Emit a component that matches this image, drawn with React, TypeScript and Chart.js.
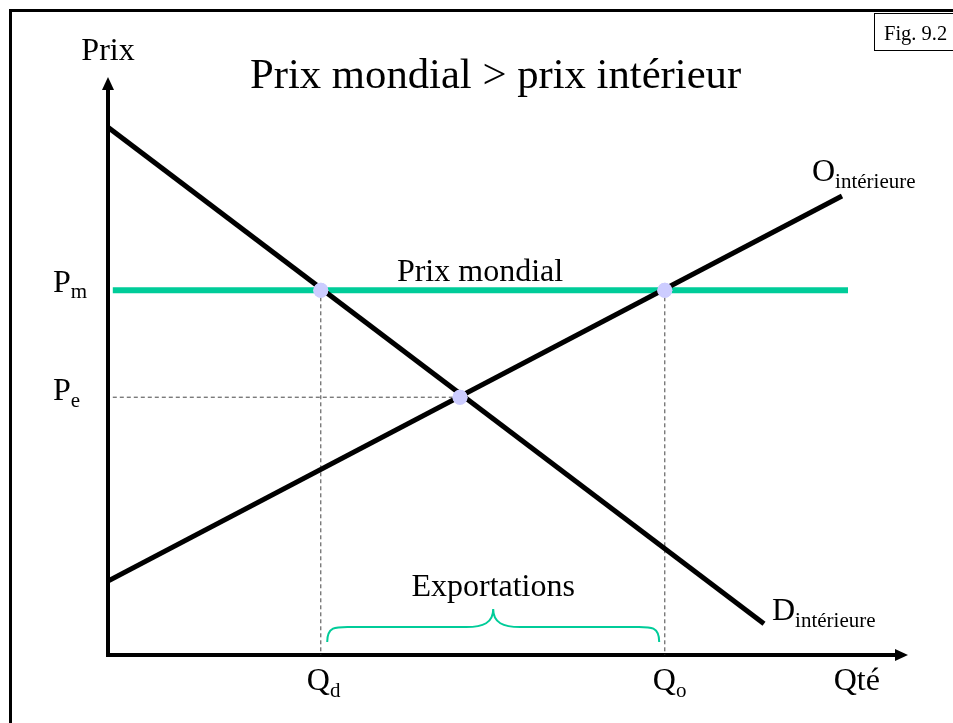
import React, { useEffect, useRef } from "react";
import { Chart, registerables } from "chart.js";

Chart.register(...registerables);

// ---- data (in conceptual units: quantity 0..100, price 0..100) ----
const demandX = [0, 82];
const demandY = [91.3, 5.4];
const supplyX = [0, 91.75];
const supplyY = [12.8, 79.4];
const worldPrice = 63.1;
const worldPriceSpan = [0.6, 92.5];
const eqPrice = 44.6;
const eqQty = 44;
const qtyDemanded = 26.6;
const qtySupplied = 69.6;
const braceSpan = [27.4, 68.9];

const TEAL = "#00CC99";
const DOT = "#CCCCFF";
const SERIF = '"Liberation Serif", "Times New Roman", serif';

const annotationPlugin = {
  id: "econAnnotations",
  beforeDatasetsDraw(chart: any) {
    const { ctx } = chart;
    const xs = chart.scales.x;
    const ys = chart.scales.y;
    const x0 = xs.getPixelForValue(0);
    const y0 = ys.getPixelForValue(0);
    const xEnd = xs.getPixelForValue(100);
    const yTop = ys.getPixelForValue(100);
    ctx.save();
    // outer frame (top + left)
    ctx.strokeStyle = "#000";
    ctx.lineWidth = 3;
    ctx.beginPath();
    ctx.moveTo(10.5, chart.height + 5);
    ctx.lineTo(10.5, 10.5);
    ctx.lineTo(chart.width + 5, 10.5);
    ctx.stroke();
    // Fig box
    ctx.lineWidth = 1;
    ctx.strokeRect(874.5, 13.5, 90, 37);
    // axes
    ctx.lineWidth = 4;
    ctx.lineCap = "butt";
    ctx.beginPath();
    ctx.moveTo(x0, y0 + 2);
    ctx.lineTo(x0, yTop + 10);
    ctx.moveTo(x0 - 2, y0);
    ctx.lineTo(xEnd - 10, y0);
    ctx.stroke();
    ctx.fillStyle = "#000";
    ctx.beginPath();
    ctx.moveTo(x0, yTop);
    ctx.lineTo(x0 - 6, yTop + 13);
    ctx.lineTo(x0 + 6, yTop + 13);
    ctx.closePath();
    ctx.fill();
    ctx.beginPath();
    ctx.moveTo(xEnd, y0);
    ctx.lineTo(xEnd - 13, y0 - 6);
    ctx.lineTo(xEnd - 13, y0 + 6);
    ctx.closePath();
    ctx.fill();
    ctx.restore();
  },
  afterDatasetsDraw(chart: any) {
    const { ctx } = chart;
    const xs = chart.scales.x;
    const ys = chart.scales.y;
    const x0 = xs.getPixelForValue(0);
    const y0 = ys.getPixelForValue(0);
    const yTop = ys.getPixelForValue(100);
    ctx.save();
    // make sure the intersection dots sit on top of every line
    const dotMeta = chart.getDatasetMeta(0);
    dotMeta.data.forEach((el: any) => el.draw(ctx, chart.chartArea));

    // brace
    const bx1 = xs.getPixelForValue(braceSpan[0]);
    const bx2 = xs.getPixelForValue(braceSpan[1]);
    const bm = (bx1 + bx2) / 2;
    const yEndB = y0 - 13;
    const yFlat = y0 - 28;
    const yTip = y0 - 46;
    ctx.strokeStyle = TEAL;
    ctx.lineWidth = 2;
    ctx.beginPath();
    ctx.moveTo(bx1, yEndB);
    ctx.bezierCurveTo(bx1, yFlat - 2, bx1 + 10, yFlat, bx1 + 27, yFlat);
    ctx.lineTo(bm - 27, yFlat);
    ctx.bezierCurveTo(bm - 10, yFlat, bm, yFlat - 4, bm, yTip);
    ctx.bezierCurveTo(bm, yFlat - 4, bm + 10, yFlat, bm + 27, yFlat);
    ctx.lineTo(bx2 - 27, yFlat);
    ctx.bezierCurveTo(bx2 - 10, yFlat, bx2, yFlat - 2, bx2, yEndB);
    ctx.stroke();

    ctx.fillStyle = "#000";
    ctx.textBaseline = "alphabetic";
    const font = (s: number) => `${s}px ${SERIF}`;
    const txt = (t: string, x: number, y: number, size: number, align: CanvasTextAlign = "left") => {
      ctx.font = font(size);
      ctx.textAlign = align;
      ctx.fillText(t, x, y);
      ctx.textAlign = "left";
      return ctx.measureText(t).width;
    };
    const sub = (main: string, s: string, x: number, y: number, size = 32, subSize = 21, dy = 7) => {
      const w = txt(main, x, y, size);
      txt(s, x + w, y + dy, subSize);
    };

    // title
    txt("Prix mondial > prix intérieur", 250, 88, 42.7);
    // fig label
    txt("Fig. 9.2", 884, 40, 20.5);
    // axis titles
    txt("Prix", x0, yTop - 17, 32, "center");
    txt("Qté", xs.getPixelForValue(93.6), y0 + 35, 32, "center");
    // price labels
    sub("P", "m", 53, ys.getPixelForValue(worldPrice) + 2, 32, 21, 6);
    sub("P", "e", 53, ys.getPixelForValue(eqPrice) + 3, 32, 21, 7);
    // quantity labels
    sub("Q", "d", xs.getPixelForValue(qtyDemanded) - 14, y0 + 35);
    sub("Q", "o", xs.getPixelForValue(qtySupplied) - 12, y0 + 35);
    // curve labels
    sub("O", "intérieure", xs.getPixelForValue(supplyX[1]) - 30, ys.getPixelForValue(supplyY[1]) - 15);
    sub("D", "intérieure", xs.getPixelForValue(demandX[1]) + 8, ys.getPixelForValue(demandY[1]) - 4);
    // world price label
    txt("Prix mondial", xs.getPixelForValue(46.5), ys.getPixelForValue(worldPrice) - 9, 32, "center");
    txt("Exportations", bm, yTip - 13, 32, "center");
    ctx.restore();
  },
};

export default function App() {
  const ref = useRef<HTMLCanvasElement | null>(null);
  useEffect(() => {
    document.body.style.margin = "0";
    const canvas = ref.current;
    if (!canvas) return;
    const dashed = {
      borderColor: "#444",
      borderWidth: 1,
      borderDash: [4, 3],
      pointRadius: 0,
      showLine: true,
      fill: false,
      order: 4,
    };
    const chart = new Chart(canvas, {
      type: "scatter",
      data: {
        datasets: [
          {
            label: "points",
            data: [
              { x: qtyDemanded, y: worldPrice },
              { x: qtySupplied, y: worldPrice },
              { x: eqQty, y: eqPrice },
            ],
            pointRadius: 7.5,
            pointBackgroundColor: DOT,
            pointBorderWidth: 0,
            pointBorderColor: DOT,
            showLine: false,
            order: 0,
          } as any,
          {
            label: "Demande",
            data: demandX.map((x, i) => ({ x, y: demandY[i] })),
            borderColor: "#000",
            borderWidth: 5,
            pointRadius: 0,
            showLine: true,
            order: 1,
          },
          {
            label: "Offre",
            data: supplyX.map((x, i) => ({ x, y: supplyY[i] })),
            borderColor: "#000",
            borderWidth: 5,
            pointRadius: 0,
            showLine: true,
            order: 1,
          },
          {
            label: "Prix mondial",
            data: worldPriceSpan.map((x) => ({ x, y: worldPrice })),
            borderColor: TEAL,
            borderWidth: 6,
            pointRadius: 0,
            showLine: true,
            order: 2,
          },
          { ...dashed, label: "Pe", data: [{ x: worldPriceSpan[0], y: eqPrice }, { x: eqQty, y: eqPrice }] },
          { ...dashed, label: "Qd", data: [{ x: qtyDemanded, y: worldPrice }, { x: qtyDemanded, y: 0 }] },
          { ...dashed, label: "Qo", data: [{ x: qtySupplied, y: worldPrice }, { x: qtySupplied, y: 0 }] },
        ] as any,
      },
      options: {
        animation: false,
        responsive: false,
        devicePixelRatio: 1,
        layout: { padding: { left: 108, right: 45, top: 77, bottom: 68 } },
        plugins: { legend: { display: false }, tooltip: { enabled: false } },
        elements: { line: { tension: 0 } },
        scales: {
          x: { type: "linear", min: 0, max: 100, display: false },
          y: { type: "linear", min: 0, max: 100, display: false },
        },
      } as any,
      plugins: [annotationPlugin],
    });
    return () => chart.destroy();
  }, []);
  return (
    <div style={{ position: "absolute", left: 0, top: 0, width: 953, height: 723, background: "#fff" }}>
      <canvas ref={ref} width={953} height={723} style={{ display: "block" }} />
    </div>
  );
}
